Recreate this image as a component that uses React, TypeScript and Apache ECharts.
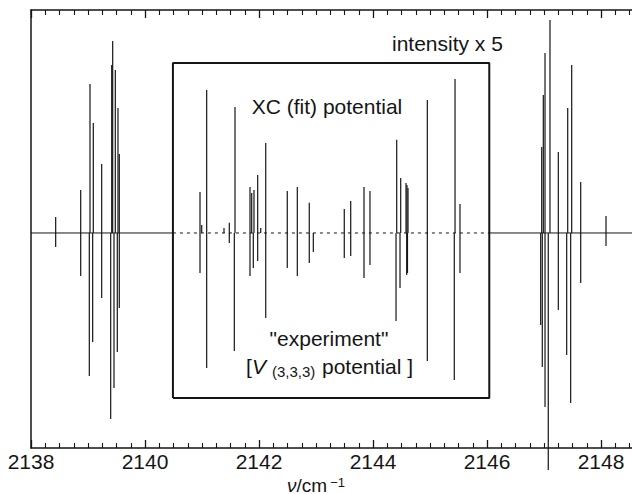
import React, { useEffect, useRef } from "react";
import * as echarts from "echarts";

// Axis
const xMin = 2138;
const xMax = 2150;
const xTickStep = 2;
const xLabelMax = 2148;
const yMin = -100;
const yMax = 103.7;

// Upper trace: "XC (fit) potential" (line positions in cm^-1, relative intensity)
const fitPos = [
  2138.433, 2138.872, 2139.035, 2139.093, 2139.24, 2139.416, 2139.433, 2139.479, 2139.526, 2139.549,
  2140.965, 2140.995, 2141.082, 2141.386, 2141.479, 2141.579, 2141.842, 2141.872, 2141.912, 2141.977,
  2142.03, 2142.118, 2142.496, 2142.672, 2142.882, 2143.496, 2143.609, 2143.842, 2143.947, 2144.416,
  2144.486, 2144.579, 2144.596, 2144.614, 2144.953, 2145.439, 2145.526,
  2146.96, 2146.988, 2147.018, 2147.105, 2147.251, 2147.416, 2147.486, 2147.644, 2148.088,
];
const fitVal = [
  7.4, 20.0, 69.3, 51.2, 32.1, 78.1, 89.3, 75.8, 58.1, 36.7,
  19.1, 3.7, 66.5, 2.3, 4.7, 58.6, 21.4, 18.6, 20.0, 27.0,
  2.3, 41.9, 19.5, 21.4, 14.0, 11.2, 14.9, 21.4, 19.5, 43.3,
  25.6, 23.3, 22.3, 20.9, 61.9, 71.6, 13.5,
  40.0, 64.2, 83.7, 99.1, 37.7, 58.1, 78.1, 23.7, 7.9,
];

// Lower trace: "experiment" [V(3,3,3) potential] (plotted downward)
const expPos = [
  2138.433, 2138.872, 2139.023, 2139.082, 2139.24, 2139.398, 2139.456, 2139.514, 2139.549,
  2140.965, 2141.082, 2141.479, 2141.567, 2141.842, 2141.9, 2141.977, 2142.118, 2142.496, 2142.672,
  2142.882, 2142.953, 2143.496, 2143.609, 2143.842, 2143.947, 2144.404, 2144.474, 2144.591, 2144.605,
  2144.953, 2145.426, 2145.526,
  2146.942, 2146.97, 2147.018, 2147.075, 2147.251, 2147.398, 2147.468, 2147.644, 2148.088,
];
const expVal = [
  -6.5, -20.0, -66.5, -50.7, -30.2, -86.5, -72.1, -55.3, -34.9,
  -18.6, -62.8, -4.7, -54.9, -20.0, -16.3, -13.0, -39.5, -16.3, -20.0,
  -14.0, -8.8, -11.6, -10.7, -20.9, -14.9, -40.9, -25.6, -19.5, -18.6,
  -59.5, -68.4, -18.6,
  -42.8, -62.3, -80.9, -110.2, -35.8, -56.7, -79.1, -23.3, -6.0,
];

// "intensity x 5" box (data coordinates)
const boxX = [2140.49, 2146.04];
const boxY = [-76.7, 79.1];

const FONT = "'Liberation Sans', Arial, Helvetica, sans-serif";
const INK = "#151515";

export default function App() {
  const ref = useRef<HTMLDivElement>(null);

  useEffect(() => {
    if (!ref.current) return;
    const chart = echarts.init(ref.current, undefined, { renderer: "svg" });

    const stick = (params: any, api: any) => {
      const x = api.value(0);
      const y = api.value(1);
      const p0 = api.coord([x, 0]);
      const p1 = api.coord([x, y]);
      return {
        type: "line",
        shape: { x1: p0[0], y1: p0[1], x2: p1[0], y2: p1[1] },
        style: { stroke: INK, lineWidth: 1.2 },
      };
    };

    const fitData = fitPos.map((p, i) => [p, fitVal[i]]);
    const expData = expPos.map((p, i) => [p, expVal[i]]);

    const boxData = [
      [boxX[0], boxY[0]],
      [boxX[1], boxY[0]],
      [boxX[1], boxY[1]],
      [boxX[0], boxY[1]],
      [boxX[0], boxY[0]],
    ];

    const xAxisBase = {
      type: "value",
      min: xMin,
      max: xMax,
      interval: xTickStep,
      splitLine: { show: false },
      axisLine: { show: true, onZero: false, lineStyle: { color: INK, width: 1.5 } },
      axisTick: { show: true, inside: true, length: 8, lineStyle: { color: INK, width: 1.3 } },
      minorTick: { show: true, splitNumber: 8, length: 5, lineStyle: { color: INK, width: 1.1 } },
    };

    chart.setOption({
      animation: false,
      grid: {
        left: 31,
        top: 10,
        width: 684,
        height: 438,
        containLabel: false,
        outerBoundsMode: "none",
      },
      xAxis: [
        {
          ...xAxisBase,
          position: "bottom",
          axisLabel: {
            show: true,
            color: INK,
            fontSize: 21,
            fontFamily: FONT,
            margin: 3,
            formatter: (v: number) => (Number.isInteger(v) && v <= xLabelMax ? String(v) : ""),
          },
        },
        {
          ...xAxisBase,
          position: "top",
          axisLabel: { show: false },
        },
      ],
      yAxis: {
        type: "value",
        min: yMin,
        max: yMax,
        axisLine: { show: true, onZero: false, lineStyle: { color: INK, width: 1.5 } },
        axisTick: { show: false },
        axisLabel: { show: false },
        splitLine: { show: false },
      },
      series: [
        {
          type: "line",
          data: [[xMin, 0], [boxX[0], 0]],
          symbol: "none",
          lineStyle: { color: INK, width: 1 },
          silent: true,
        },
        {
          type: "line",
          data: [[boxX[0], 0], [boxX[1], 0]],
          symbol: "none",
          lineStyle: { color: INK, width: 1, type: [3, 4] },
          silent: true,
        },
        {
          type: "line",
          data: [[boxX[1], 0], [xMax, 0]],
          symbol: "none",
          lineStyle: { color: INK, width: 1 },
          silent: true,
        },
        {
          type: "line",
          data: boxData,
          symbol: "none",
          lineStyle: { color: INK, width: 2 },
          silent: true,
        },
        {
          type: "custom",
          name: "XC (fit) potential",
          data: fitData,
          renderItem: stick,
          encode: { x: 0, y: 1 },
          clip: false,
        },
        {
          type: "custom",
          name: "experiment",
          data: expData,
          renderItem: stick,
          encode: { x: 0, y: 1 },
          clip: false,
        },
      ],
      graphic: [
        {
          type: "text",
          left: 392,
          top: 33,
          style: { text: "intensity x 5", font: `21px ${FONT}`, fill: INK },
        },
        {
          type: "text",
          x: 327,
          y: 106,
          style: {
            text: "XC (fit) potential",
            font: `21px ${FONT}`,
            fill: INK,
            textAlign: "center",
            textVerticalAlign: "middle",
          },
        },
        {
          type: "text",
          x: 329,
          y: 338,
          style: {
            text: '"experiment"',
            font: `21px ${FONT}`,
            fill: INK,
            textAlign: "center",
            textVerticalAlign: "middle",
          },
        },
        {
          type: "text",
          x: 246,
          y: 366,
          style: { text: "[", font: `21px ${FONT}`, fill: INK, textAlign: "left", textVerticalAlign: "middle" },
        },
        {
          type: "text",
          x: 252,
          y: 366,
          style: { text: "V", font: `italic 21px ${FONT}`, fill: INK, textAlign: "left", textVerticalAlign: "middle" },
        },
        {
          type: "text",
          x: 272,
          y: 371,
          style: { text: "(3,3,3)", font: `15px ${FONT}`, fill: INK, textAlign: "left", textVerticalAlign: "middle" },
        },
        {
          type: "text",
          x: 322,
          y: 366,
          style: { text: "potential ]", font: `21px ${FONT}`, fill: INK, textAlign: "left", textVerticalAlign: "middle" },
        },
        {
          type: "text",
          x: 316,
          y: 485,
          style: {
            text: "{i|ν}{n|/cm}{s|−1}",
            textAlign: "center",
            textVerticalAlign: "middle",
            rich: {
              i: { font: `italic 19px ${FONT}`, fill: INK, verticalAlign: "bottom" },
              n: { font: `19px ${FONT}`, fill: INK, verticalAlign: "bottom" },
              s: { font: `13px ${FONT}`, fill: INK, verticalAlign: "top", padding: [0, 0, 0, 3] },
            },
          },
        },
      ],
    });

    return () => chart.dispose();
  }, []);

  return (
    <div
      style={{ position: "fixed", left: 0, top: 0, width: 632, height: 494, background: "#fff", overflow: "hidden" }}
    >
      <div ref={ref} style={{ width: 720, height: 494 }} />
    </div>
  );
}
